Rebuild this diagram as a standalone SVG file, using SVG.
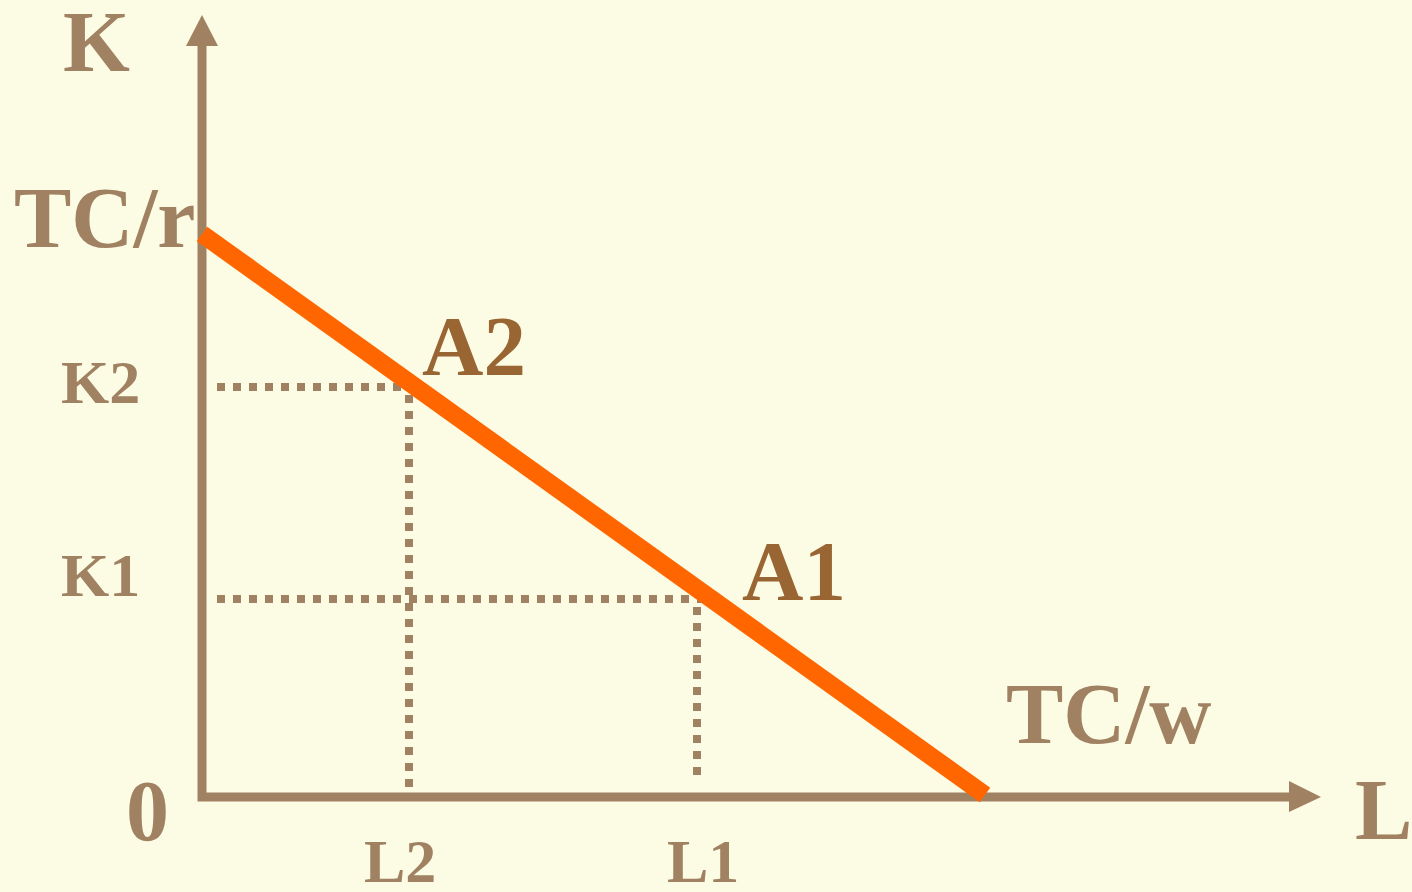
<svg xmlns="http://www.w3.org/2000/svg" width="1412" height="892" viewBox="0 0 1412 892">
<defs>
<style>
.t{font-family:"Liberation Serif","Times New Roman",serif;font-weight:bold;fill:#A08262}
.big{font-size:86px}
.sm{font-size:62px}
.pt{font-family:"Liberation Serif","Times New Roman",serif;font-weight:bold;fill:#996633;font-size:85px}
.ax{stroke:#A08262;stroke-width:9;fill:none}
.dot{stroke:#A08262;stroke-width:8;fill:none;stroke-dasharray:8 8}
</style>
</defs>
<rect width="1412" height="892" fill="#FCFBE4"/>
<g id="connectors">
<path class="ax" d="M202,40 V797 H1295"/>
<polygon points="202,15 186,46 218,46" fill="#A08262"/>
<polygon points="1321,797 1289,781 1289,812" fill="#A08262"/>
<path class="dot" d="M217,387 H415"/>
<path class="dot" d="M409,395 V795"/>
<path class="dot" d="M217,599 H703"/>
<path class="dot" d="M697,607 V783"/>
<line x1="202" y1="234" x2="985" y2="795" stroke="#FF6600" stroke-width="18"/>
</g>
<g id="axis-labels">
<text class="t big" x="63" y="71">K</text>
<text class="t big" x="1355" y="839">L</text>
<text class="t big" x="126" y="840">0</text>
</g>
<g id="intercepts">
<text class="t big" x="14" y="247">TC/r</text>
<text class="t big" x="1006" y="743">TC/w</text>
</g>
<g id="ticks">
<text class="t sm" x="61" y="403">K2</text>
<text class="t sm" x="61" y="596">K1</text>
<text class="t sm" x="364" y="882">L2</text>
<text class="t sm" x="667" y="882">L1</text>
</g>
<g id="points">
<text class="pt" x="422" y="375">A2</text>
<text class="pt" x="742" y="600">A1</text>
</g>
</svg>
